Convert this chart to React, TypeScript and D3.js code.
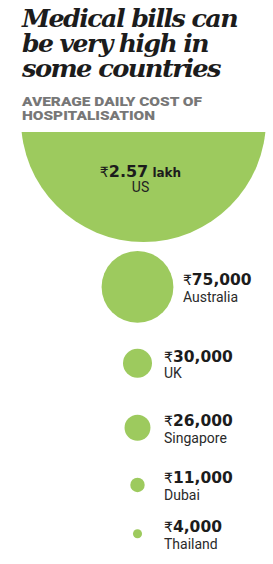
import React, { useEffect, useRef } from 'react';
import * as d3 from 'd3';

const countries = ['US', 'Australia', 'UK', 'Singapore', 'Dubai', 'Thailand'];
const costs = [257000, 75000, 30000, 26000, 11000, 4000];
const costLabels = ['2.57', '75,000', '30,000', '26,000', '11,000', '4,000'];
const titleLines = ['Medical bills can', 'be very high in', 'some countries'];
const subtitleLines = ['AVERAGE DAILY COST OF', 'HOSPITALISATION'];

const GREEN = '#9dca5e';

export default function App() {
    const ref = useRef<SVGSVGElement | null>(null);
    useEffect(() => {
        const svg = d3.select(ref.current);
        svg.selectAll('*').remove();
        const width = 273, height = 564;
        svg.attr('viewBox', `0 0 ${width} ${height}`);

        // title
        const titleW = [215, 186, 198];
        svg.append('g').selectAll('text').data(titleLines).join('text')
            .attr('x', 22)
            .attr('y', (d, i) => 27 + i * 25)
            .attr('textLength', (d, i) => titleW[i])
            .attr('lengthAdjust', 'spacingAndGlyphs')
            .attr('font-family', 'DejaVu Serif')
            .attr('font-weight', 'bold')
            .attr('font-style', 'italic')
            .attr('font-size', 24)
            .attr('letter-spacing', -1.5)
            .attr('fill', '#1c1c1c')
            .text(d => d);

        const subW = [180, 133];
        svg.append('g').selectAll('text').data(subtitleLines).join('text')
            .attr('x', 22)
            .attr('y', (d, i) => 106 + i * 13.5)
            .attr('textLength', (d, i) => subW[i])
            .attr('lengthAdjust', 'spacingAndGlyphs')
            .attr('font-family', 'Roboto')
            .attr('font-weight', 900)
            .attr('font-size', 13.5)
            .attr('fill', '#777')
            .text(d => d);

        const r = d3.scaleLinear().domain([0, 30000, 257000]).range([3, 14.5, 122.5]);

        // US: big circle cut flat at the top
        const topY = 132;
        const usR = r(costs[0]);
        const usCx = 143.5, usCy = 119.5;
        svg.append('clipPath').attr('id', 'usclip')
            .append('rect').attr('x', 0).attr('y', topY).attr('width', width).attr('height', height);
        svg.append('circle')
            .attr('cx', usCx).attr('cy', usCy).attr('r', usR)
            .attr('fill', GREEN)
            .attr('clip-path', 'url(#usclip)');
        const usVal = svg.append('text')
            .attr('x', usCx - 3).attr('y', 176.5)
            .attr('text-anchor', 'middle')
            .attr('font-family', 'DejaVu Sans')
            .attr('font-weight', 'bold')
            .attr('fill', '#1c1c1c');
        usVal.append('tspan').attr('font-weight', 'normal').attr('font-size', 14).text('₹');
        usVal.append('tspan').attr('font-size', 16).text(costLabels[0]);
        usVal.append('tspan').attr('font-size', 12).text(' lakh');
        svg.append('text')
            .attr('x', usCx - 3).attr('y', 191.5)
            .attr('text-anchor', 'middle')
            .attr('font-family', 'Roboto')
            .attr('font-size', 14)
            .attr('fill', '#222')
            .text(countries[0]);

        // the others stacked below
        const cx = 137.5;
        const rows: { name: string; label: string; r: number; cy: number }[] = [];
        let y = usCy + usR + 9;
        costs.slice(1).forEach((v, i) => {
            const rr = r(v);
            if (i > 0) y += i === 1 ? 26 : 37;
            const cy = y + rr;
            rows.push({ name: countries[i + 1], label: costLabels[i + 1], r: rr, cy });
            y = cy + rr;
        });

        const g = svg.append('g');
        g.selectAll('circle').data(rows).join('circle')
            .attr('cx', cx).attr('cy', d => d.cy).attr('r', d => d.r)
            .attr('fill', GREEN);

        const lx = (d: { r: number }) => Math.max(cx + d.r + 9.5, cx + 26.5);
        const vals = g.selectAll('text.val').data(rows).join('text')
            .attr('class', 'val')
            .attr('x', lx).attr('y', d => d.cy - 1.5)
            .attr('font-family', 'DejaVu Sans')
            .attr('font-weight', 'bold')
            .attr('fill', '#1c1c1c');
        vals.append('tspan').attr('font-weight', 'normal').attr('font-size', 14).text('₹');
        vals.append('tspan').attr('font-size', 15.5).text(d => d.label);

        g.selectAll('text.name').data(rows).join('text')
            .attr('class', 'name')
            .attr('x', lx).attr('y', d => d.cy + 15)
            .attr('font-family', 'Roboto')
            .attr('font-size', 14)
            .attr('fill', '#2a2a2a')
            .text(d => d.name);
    }, []);
    return <svg ref={ref} width={273} height={564} style={{ position: 'absolute', left: 0, top: 0, background: '#fff' }} />;
}
